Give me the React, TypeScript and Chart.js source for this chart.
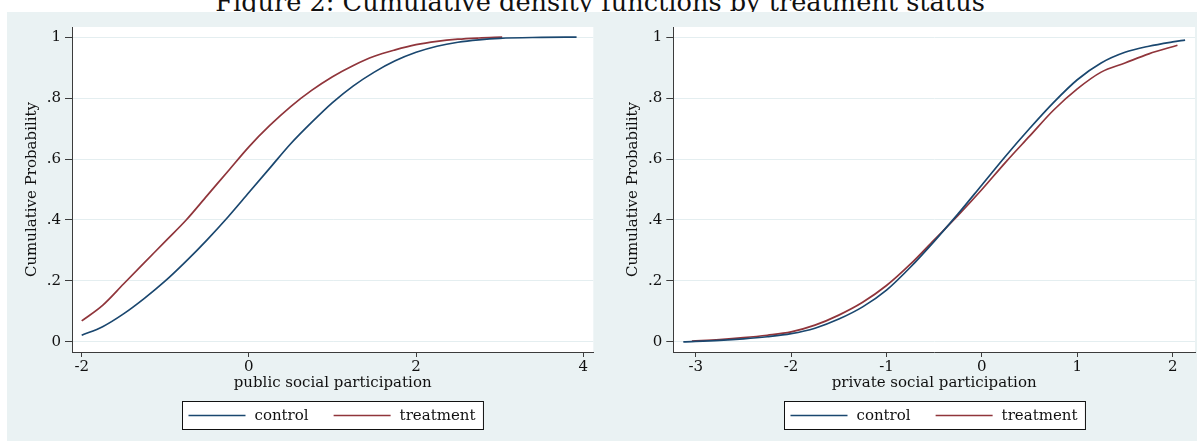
import React, { useEffect, useRef } from "react";
import { Chart, registerables } from "chart.js";

Chart.register(...registerables);

// ---------- text ----------
const TITLE = "Figure 2: Cumulative density functions by treatment status";
const SERIES_LABELS = ["control", "treatment"];
const Y_TITLE = "Cumulative Probability";
const Y_TICKS = [0, 0.2, 0.4, 0.6, 0.8, 1];
const Y_TICK_LABELS = ["0", ".2", ".4", ".6", ".8", "1"];

// ---------- left panel: public social participation ----------
const PUBLIC_TITLE = "public social participation";
const PUBLIC_X_TICKS = [-2, 0, 2, 4];
const publicControlX = [-2.0, -1.75, -1.5, -1.25, -1.0, -0.75, -0.5, -0.25, 0, 0.25, 0.5, 0.75, 1.0, 1.25, 1.5, 1.75, 2.0, 2.25, 2.5, 2.75, 3.0, 3.5, 3.92];
const publicControlY = [0.022, 0.05, 0.092, 0.143, 0.2, 0.265, 0.335, 0.41, 0.49, 0.57, 0.65, 0.72, 0.785, 0.84, 0.885, 0.922, 0.95, 0.97, 0.983, 0.991, 0.996, 0.999, 1.0];
const publicTreatX = [-2.0, -1.75, -1.5, -1.25, -1.0, -0.75, -0.5, -0.25, 0, 0.25, 0.5, 0.75, 1.0, 1.25, 1.5, 1.75, 2.0, 2.25, 2.5, 2.75, 3.03];
const publicTreatY = [0.069, 0.12, 0.19, 0.26, 0.33, 0.4, 0.48, 0.56, 0.64, 0.71, 0.772, 0.825, 0.87, 0.907, 0.937, 0.958, 0.975, 0.986, 0.993, 0.997, 1.0];

// ---------- right panel: private social participation ----------
const PRIVATE_TITLE = "private social participation";
const PRIVATE_X_TICKS = [-3, -2, -1, 0, 1, 2];
const privateControlX = [-3.13, -2.75, -2.5, -2.25, -2.0, -1.75, -1.5, -1.25, -1.0, -0.75, -0.5, -0.25, 0, 0.25, 0.5, 0.75, 1.0, 1.25, 1.5, 1.75, 2.0, 2.13];
const privateControlY = [0.0, 0.005, 0.01, 0.017, 0.027, 0.045, 0.075, 0.115, 0.17, 0.245, 0.33, 0.42, 0.515, 0.61, 0.7, 0.785, 0.86, 0.915, 0.95, 0.97, 0.984, 0.99];
const privateTreatX = [-3.04, -2.75, -2.5, -2.25, -2.0, -1.75, -1.5, -1.25, -1.0, -0.75, -0.5, -0.25, 0, 0.25, 0.5, 0.75, 1.0, 1.25, 1.5, 1.75, 2.05];
const privateTreatY = [0.003, 0.008, 0.014, 0.022, 0.033, 0.055, 0.088, 0.13, 0.185, 0.255, 0.335, 0.415, 0.5, 0.59, 0.675, 0.76, 0.83, 0.885, 0.915, 0.945, 0.973];

// ---------- styles ----------
const FONT = "'DejaVu Serif', serif";
const NAVY = "#1a476f";
const MAROON = "#90353b";
const BG = "#eaf2f3";
const GRID = "#e4eef0";
const AXIS = "#3c3c3c";
const TEXT = "#111111";
const LINE_W = 1.7;

const plotBackground = {
  id: "plotBackground",
  beforeDraw(chart: any) {
    const { ctx, chartArea } = chart;
    ctx.save();
    ctx.fillStyle = "#ffffff";
    ctx.fillRect(chartArea.left, chartArea.top, chartArea.right - chartArea.left, chartArea.bottom - chartArea.top);
    ctx.restore();
  },
};

const boxedLegend = {
  id: "boxedLegend",
  afterDraw(chart: any, _args: any, opts: any) {
    const { ctx, chartArea } = chart;
    ctx.save();
    ctx.font = `15px ${FONT}`;
    const items = chart.data.datasets.map((ds: any) => ({ label: ds.label, color: ds.borderColor }));
    const padL = 6, lineLen = 57, gapText = 9, gapItem = 25, padR = 8;
    const widths = items.map((i: any) => ctx.measureText(i.label).width);
    let total = padL + padR;
    items.forEach((_: any, k: number) => {
      total += lineLen + gapText + widths[k] + (k < items.length - 1 ? gapItem : 0);
    });
    const cx = (chartArea.left + chartArea.right) / 2;
    const left = Math.round(cx - total / 2) + 0.5;
    const top = opts.top + 0.5;
    const h = opts.height;
    ctx.fillStyle = "#ffffff";
    ctx.fillRect(left, top, total, h);
    ctx.strokeStyle = "#111111";
    ctx.lineWidth = 1;
    ctx.strokeRect(left, top, total, h);
    const midY = top + h / 2;
    let x = left + padL;
    items.forEach((it: any, k: number) => {
      ctx.strokeStyle = it.color;
      ctx.lineWidth = 1.4;
      ctx.beginPath();
      ctx.moveTo(x, midY);
      ctx.lineTo(x + lineLen, midY);
      ctx.stroke();
      x += lineLen + gapText;
      ctx.fillStyle = TEXT;
      ctx.textBaseline = "middle";
      ctx.textAlign = "left";
      ctx.fillText(it.label, x, midY + 1);
      x += widths[k] + gapItem;
    });
    ctx.restore();
  },
};

type PanelProps = {
  width: number;
  height: number;
  xMin: number;
  xMax: number;
  xTicks: number[];
  xTitle: string;
  yAxisWidth: number;
  yTitlePad: number;
  padRight: number;
  controlX: number[];
  controlY: number[];
  treatX: number[];
  treatY: number[];
};

function Panel(p: PanelProps) {
  const ref = useRef<HTMLCanvasElement | null>(null);
  useEffect(() => {
    if (!ref.current) return;
    const toPts = (xs: number[], ys: number[]) => xs.map((x, i) => ({ x, y: ys[i] }));
    const chart = new Chart(ref.current, {
      type: "line",
      data: {
        datasets: [
          {
            label: SERIES_LABELS[0],
            data: toPts(p.controlX, p.controlY),
            borderColor: NAVY,
            borderWidth: LINE_W,
            pointRadius: 0,
            cubicInterpolationMode: "monotone",
            fill: false,
          },
          {
            label: SERIES_LABELS[1],
            data: toPts(p.treatX, p.treatY),
            borderColor: MAROON,
            borderWidth: LINE_W,
            pointRadius: 0,
            cubicInterpolationMode: "monotone",
            fill: false,
          },
        ],
      },
      options: {
        responsive: false,
        animation: false,
        devicePixelRatio: 1,
        layout: { padding: { left: 0, right: p.padRight, top: 15, bottom: 0 } },
        plugins: {
          legend: { display: false },
          tooltip: { enabled: false },
          boxedLegend: { top: 389, height: 28 },
        } as any,
        scales: {
          x: {
            type: "linear",
            min: p.xMin,
            max: p.xMax,
            afterBuildTicks: (scale: any) => {
              scale.ticks = p.xTicks.map((v) => ({ value: v }));
            },
            afterFit: (scale: any) => {
              scale.height = 89;
            },
            ticks: {
              callback: (v: any) => String(v),
              color: TEXT,
              font: { family: FONT, size: 15 },
              padding: 1,
              maxRotation: 0,
              autoSkip: false,
            },
            grid: {
              drawOnChartArea: false,
              drawTicks: true,
              tickLength: 5,
              tickColor: AXIS,
              tickWidth: 1,
            },
            border: { display: true, color: AXIS, width: 1 },
            title: {
              display: true,
              text: p.xTitle,
              color: TEXT,
              font: { family: FONT, size: 15 },
              padding: { top: 0, bottom: 49 },
            },
          },
          y: {
            type: "linear",
            min: -0.033,
            max: 1.033,
            afterBuildTicks: (scale: any) => {
              scale.ticks = Y_TICKS.map((v) => ({ value: v }));
            },
            afterFit: (scale: any) => {
              scale.width = p.yAxisWidth;
            },
            ticks: {
              callback: (v: any) => {
                const i = Y_TICKS.findIndex((t) => Math.abs(t - v) < 1e-9);
                return i >= 0 ? Y_TICK_LABELS[i] : "";
              },
              color: TEXT,
              font: { family: FONT, size: 15 },
              padding: 4,
              autoSkip: false,
            },
            grid: {
              color: GRID,
              lineWidth: 1,
              drawTicks: true,
              tickLength: 7,
              tickColor: AXIS,
              tickWidth: 1,
            },
            border: { display: true, color: AXIS, width: 1 },
            title: {
              display: true,
              text: Y_TITLE,
              color: TEXT,
              font: { family: FONT, size: 15 },
              padding: { top: p.yTitlePad, bottom: 0 },
            },
          },
        },
      },
      plugins: [plotBackground, boxedLegend],
    } as any);
    return () => chart.destroy();
  }, []);
  return (
    <canvas
      ref={ref}
      width={p.width}
      height={p.height}
      style={{ width: p.width, height: p.height, display: "block", background: BG }}
    />
  );
}

export default function App() {
  return (
    <div style={{ position: "fixed", left: 0, top: 0, width: 1197, height: 441, background: "#fff", overflow: "hidden" }}>
      <div
        style={{
          position: "absolute",
          left: 600,
          top: -13.5,
          transform: "translateX(-50%)",
          whiteSpace: "nowrap",
          fontFamily: FONT,
          fontSize: 25.6,
          color: TEXT,
          lineHeight: "normal",
        }}
      >
        {TITLE}
      </div>
      <div style={{ position: "absolute", left: 7, top: 12 }}>
        <Panel
          width={590}
          height={429}
          xMin={-2.116}
          xMax={4.12}
          xTicks={PUBLIC_X_TICKS}
          xTitle={PUBLIC_TITLE}
          yAxisWidth={65}
          yTitlePad={15.7}
          padRight={3.7}
          controlX={publicControlX}
          controlY={publicControlY}
          treatX={publicTreatX}
          treatY={publicTreatY}
        />
      </div>
      <div style={{ position: "absolute", left: 597, top: 12 }}>
        <Panel
          width={600}
          height={429}
          xMin={-3.235}
          xMax={2.234}
          xTicks={PRIVATE_X_TICKS}
          xTitle={PRIVATE_TITLE}
          yAxisWidth={76.3}
          yTitlePad={27}
          padRight={2}
          controlX={privateControlX}
          controlY={privateControlY}
          treatX={privateTreatX}
          treatY={privateTreatY}
        />
      </div>
    </div>
  );
}
